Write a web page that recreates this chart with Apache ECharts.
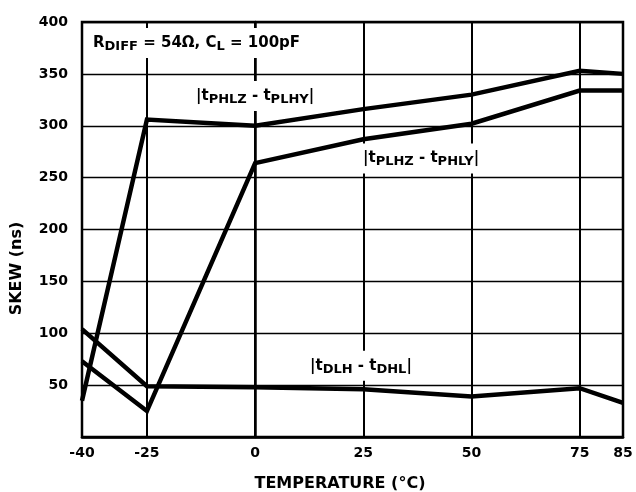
<!DOCTYPE html>
<html>
<head>
<meta charset="utf-8">
<script src="https://cdn.jsdelivr.net/npm/echarts@6/dist/echarts.min.js"></script>
<style>html,body{margin:0;padding:0;background:#fff}#c{width:636px;height:492px}</style>
</head>
<body>
<div id="c"></div>
<script>
// Data
var temperatures = [-40, -25, 0, 25, 50, 75, 85];
var xTicks = [-40, -25, 0, 25, 50, 75, 85];
var skewPHLZ_PLHY = [35, 306, 300, 316, 330, 353, 350];
var skewPLHZ_PHLY = [73, 25, 264, 287, 302, 334, 334];
var skewDLH_DHL = [104, 49, 48, 46, 39, 47, 33];

var FONT = 'DejaVu Sans';
function pairs(xs, ys) { return xs.map(function (x, i) { return [x, ys[i]]; }); }

var chart = echarts.init(document.getElementById('c'), null, { renderer: 'canvas' });

var lineStyle = { color: '#000', width: 4.5, join: 'miter' };
function mkSeries(name, vals) {
  return {
    name: name, type: 'line', data: pairs(temperatures, vals),
    showSymbol: false, symbol: 'none', lineStyle: lineStyle, z: 5, animation: false
  };
}

var richStyles = {
  m: { fontFamily: FONT, fontWeight: 'bold', fontSize: 15, lineHeight: 20, verticalAlign: 'middle', fill: '#000' },
  s: { fontFamily: FONT, fontWeight: 'bold', fontSize: 13, lineHeight: 14, verticalAlign: 'bottom', fill: '#000' }
};
var PAD = [5, 4, 5, 4];
function label(x, top, text) {
  return {
    type: 'text', x: x, y: top - PAD[0], z: 3,
    style: {
      text: text, rich: richStyles, fill: '#000',
      font: 'bold 15px ' + FONT,
      align: 'left', verticalAlign: 'top',
      backgroundColor: '#fff', padding: PAD
    }
  };
}

var option = {
  animation: false,
  backgroundColor: '#fff',
  grid: {
    left: 82, right: 13, top: 22, bottom: 55, show: true, borderColor: '#000', borderWidth: 2.5,
    containLabel: false, outerBoundsMode: 'none'
  },
  xAxis: {
    type: 'value', min: -40, max: 85,
    name: 'TEMPERATURE (°C)', nameLocation: 'middle', nameGap: 39,
    nameTextStyle: { fontFamily: FONT, fontWeight: 'bold', fontSize: 16, color: '#000', padding: [0, 25, 0, 0] },
    axisLine: { show: true, lineStyle: { color: '#000', width: 2.5 } },
    axisTick: { show: true, customValues: xTicks, inside: true, length: 415, lineStyle: { color: '#000', width: 2 } },
    axisLabel: { customValues: xTicks, fontFamily: FONT, fontWeight: 'bold', fontSize: 14, color: '#000', margin: 9 },
    splitLine: { show: false }
  },
  yAxis: {
    type: 'value', min: 0, max: 400, interval: 50,
    name: 'SKEW (ns)', nameLocation: 'middle', nameGap: 57,
    nameTextStyle: { fontFamily: FONT, fontWeight: 'bold', fontSize: 16, color: '#000', padding: [0, 78, 0, 0] },
    axisLine: { show: true, lineStyle: { color: '#000', width: 2.5 } },
    axisTick: { show: false },
    axisLabel: {
      fontFamily: FONT, fontWeight: 'bold', fontSize: 14, color: '#000', margin: 14, padding: [0, 0, 4, 0],
      formatter: function (v) { return v === 0 ? '' : String(v); }
    },
    splitLine: { show: true, lineStyle: { color: '#000', width: 1.3 } }
  },
  series: [
    mkSeries('|tPHLZ - tPLHY|', skewPHLZ_PLHY),
    mkSeries('|tPLHZ - tPHLY|', skewPLHZ_PHLY),
    mkSeries('|tDLH - tDHL|', skewDLH_DHL)
  ],
  graphic: [
    label(89, 33, '{m|R}{s|DIFF}{m| = 54Ω, C}{s|L}{m| = 100pF}'),
    label(192, 86, '{m||t}{s|PHLZ}{m| - t}{s|PLHY}{m||}'),
    label(359, 148.6, '{m||t}{s|PLHZ}{m| - t}{s|PHLY}{m||}'),
    label(306, 355.7, '{m||t}{s|DLH}{m| - t}{s|DHL}{m||}')
  ]
};
chart.setOption(option);
</script>
</body>
</html>
